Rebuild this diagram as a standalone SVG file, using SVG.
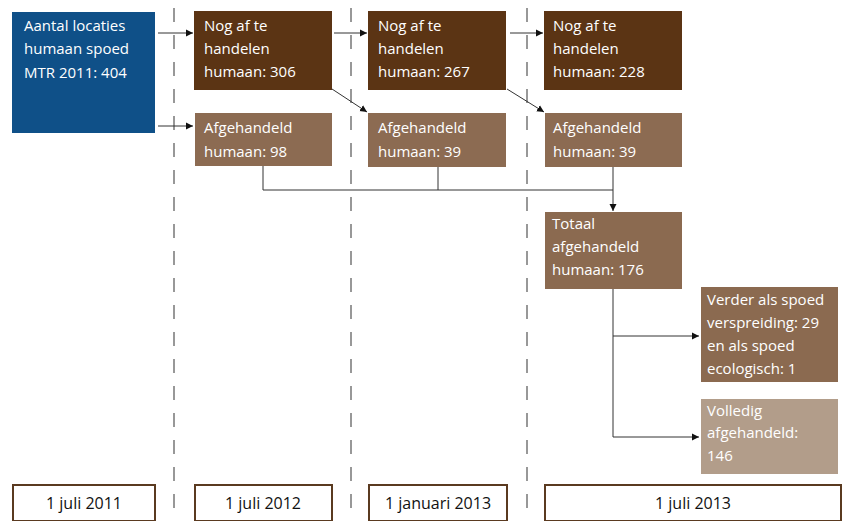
<svg xmlns="http://www.w3.org/2000/svg" width="844" height="521" viewBox="0 0 844 521">
<style>
.t{font-family:"Open Sans","Liberation Sans",sans-serif;font-size:15px;fill:#fff}
.d{font-family:"Open Sans","Liberation Sans",sans-serif;font-size:16px;fill:#111;text-anchor:middle}
.dash{stroke:#777;stroke-width:1.5;stroke-dasharray:14 13;fill:none}
.c{stroke:#333;stroke-width:1;fill:none}
.date{fill:#fff;stroke:#5a3a20;stroke-width:2}
</style>
<defs>
<marker id="a" markerWidth="8" markerHeight="8" refX="7" refY="4" orient="auto" markerUnits="userSpaceOnUse">
<path d="M0,0.5 L7,4 L0,7.5 Z" fill="#111"/>
</marker>
</defs>
<rect width="844" height="521" fill="#fff"/>
<g id="dividers">
<line class="dash" x1="174" y1="8" x2="174" y2="521"/>
<line class="dash" x1="351" y1="8" x2="351" y2="521"/>
<line class="dash" x1="527" y1="8" x2="527" y2="521"/>
</g>
<g id="connectors">
<line class="c" x1="158" y1="33" x2="193" y2="33" marker-end="url(#a)"/>
<line class="c" x1="158" y1="126" x2="193" y2="126" marker-end="url(#a)"/>
<line class="c" x1="334" y1="33" x2="367" y2="33" marker-end="url(#a)"/>
<line class="c" x1="510" y1="33" x2="543" y2="33" marker-end="url(#a)"/>
<line class="c" x1="332" y1="89" x2="367" y2="112" marker-end="url(#a)"/>
<line class="c" x1="507" y1="89" x2="544" y2="112" marker-end="url(#a)"/>
<polyline class="c" points="263,166 263,190 613,190"/>
<line class="c" x1="438" y1="167" x2="438" y2="190"/>
<line class="c" x1="613" y1="167" x2="613" y2="211" marker-end="url(#a)"/>
<polyline class="c" points="613,289 613,437 699,437" marker-end="url(#a)"/>
<line class="c" x1="613" y1="336" x2="699" y2="336" marker-end="url(#a)"/>
</g>
<g id="start">
<rect x="12" y="12" width="143" height="121" fill="#0f5088"/>
<text class="t" x="24" y="31">Aantal locaties</text>
<text class="t" x="24" y="54">humaan spoed</text>
<text class="t" x="24" y="78">MTR 2011: 404</text>
</g>
<g id="nog306">
<rect x="194" y="11" width="138" height="79" fill="#5b3414"/>
<text class="t" x="204" y="31">Nog af te</text>
<text class="t" x="204" y="54">handelen</text>
<text class="t" x="204" y="77">humaan: 306</text>
</g>
<g id="afg98">
<rect x="195" y="113" width="137" height="53" fill="#8c6b52"/>
<text class="t" x="204" y="133">Afgehandeld</text>
<text class="t" x="204" y="157">humaan: 98</text>
</g>
<g id="nog267">
<rect x="368" y="11" width="138" height="79" fill="#5b3414"/>
<text class="t" x="378" y="31">Nog af te</text>
<text class="t" x="378" y="54">handelen</text>
<text class="t" x="378" y="77">humaan: 267</text>
</g>
<g id="afg39a">
<rect x="368" y="113" width="138" height="54" fill="#8c6b52"/>
<text class="t" x="378" y="133">Afgehandeld</text>
<text class="t" x="378" y="157">humaan: 39</text>
</g>
<g id="nog228">
<rect x="544" y="11" width="138" height="79" fill="#5b3414"/>
<text class="t" x="553" y="31">Nog af te</text>
<text class="t" x="553" y="54">handelen</text>
<text class="t" x="553" y="77">humaan: 228</text>
</g>
<g id="afg39b">
<rect x="545" y="113" width="137" height="54" fill="#8c6b52"/>
<text class="t" x="553" y="133">Afgehandeld</text>
<text class="t" x="553" y="157">humaan: 39</text>
</g>
<g id="totaal">
<rect x="545" y="212" width="137" height="77" fill="#8b6a50"/>
<text class="t" x="552" y="229">Totaal</text>
<text class="t" x="552" y="252">afgehandeld</text>
<text class="t" x="552" y="275">humaan: 176</text>
</g>
<g id="verder">
<rect x="701" y="287" width="137" height="95" fill="#8b6a50"/>
<text class="t" x="707" y="305">Verder als spoed</text>
<text class="t" x="707" y="328">verspreiding: 29</text>
<text class="t" x="707" y="351">en als spoed</text>
<text class="t" x="707" y="374">ecologisch: 1</text>
</g>
<g id="volledig">
<rect x="701" y="399" width="137" height="75" fill="#b29d8a"/>
<text class="t" x="707" y="416">Volledig</text>
<text class="t" x="707" y="438">afgehandeld:</text>
<text class="t" x="707" y="461">146</text>
</g>
<g id="d2011">
<rect class="date" x="13" y="485" width="142" height="36"/>
<text class="d" x="84" y="509">1 juli 2011</text>
</g>
<g id="d2012">
<rect class="date" x="195" y="485" width="137" height="36"/>
<text class="d" x="263" y="509">1 juli 2012</text>
</g>
<g id="d2013a">
<rect class="date" x="369" y="485" width="138" height="36"/>
<text class="d" x="438" y="509">1 januari 2013</text>
</g>
<g id="d2013b">
<rect class="date" x="545" y="485" width="296" height="36"/>
<text class="d" x="693" y="509">1 juli 2013</text>
</g>
</svg>
